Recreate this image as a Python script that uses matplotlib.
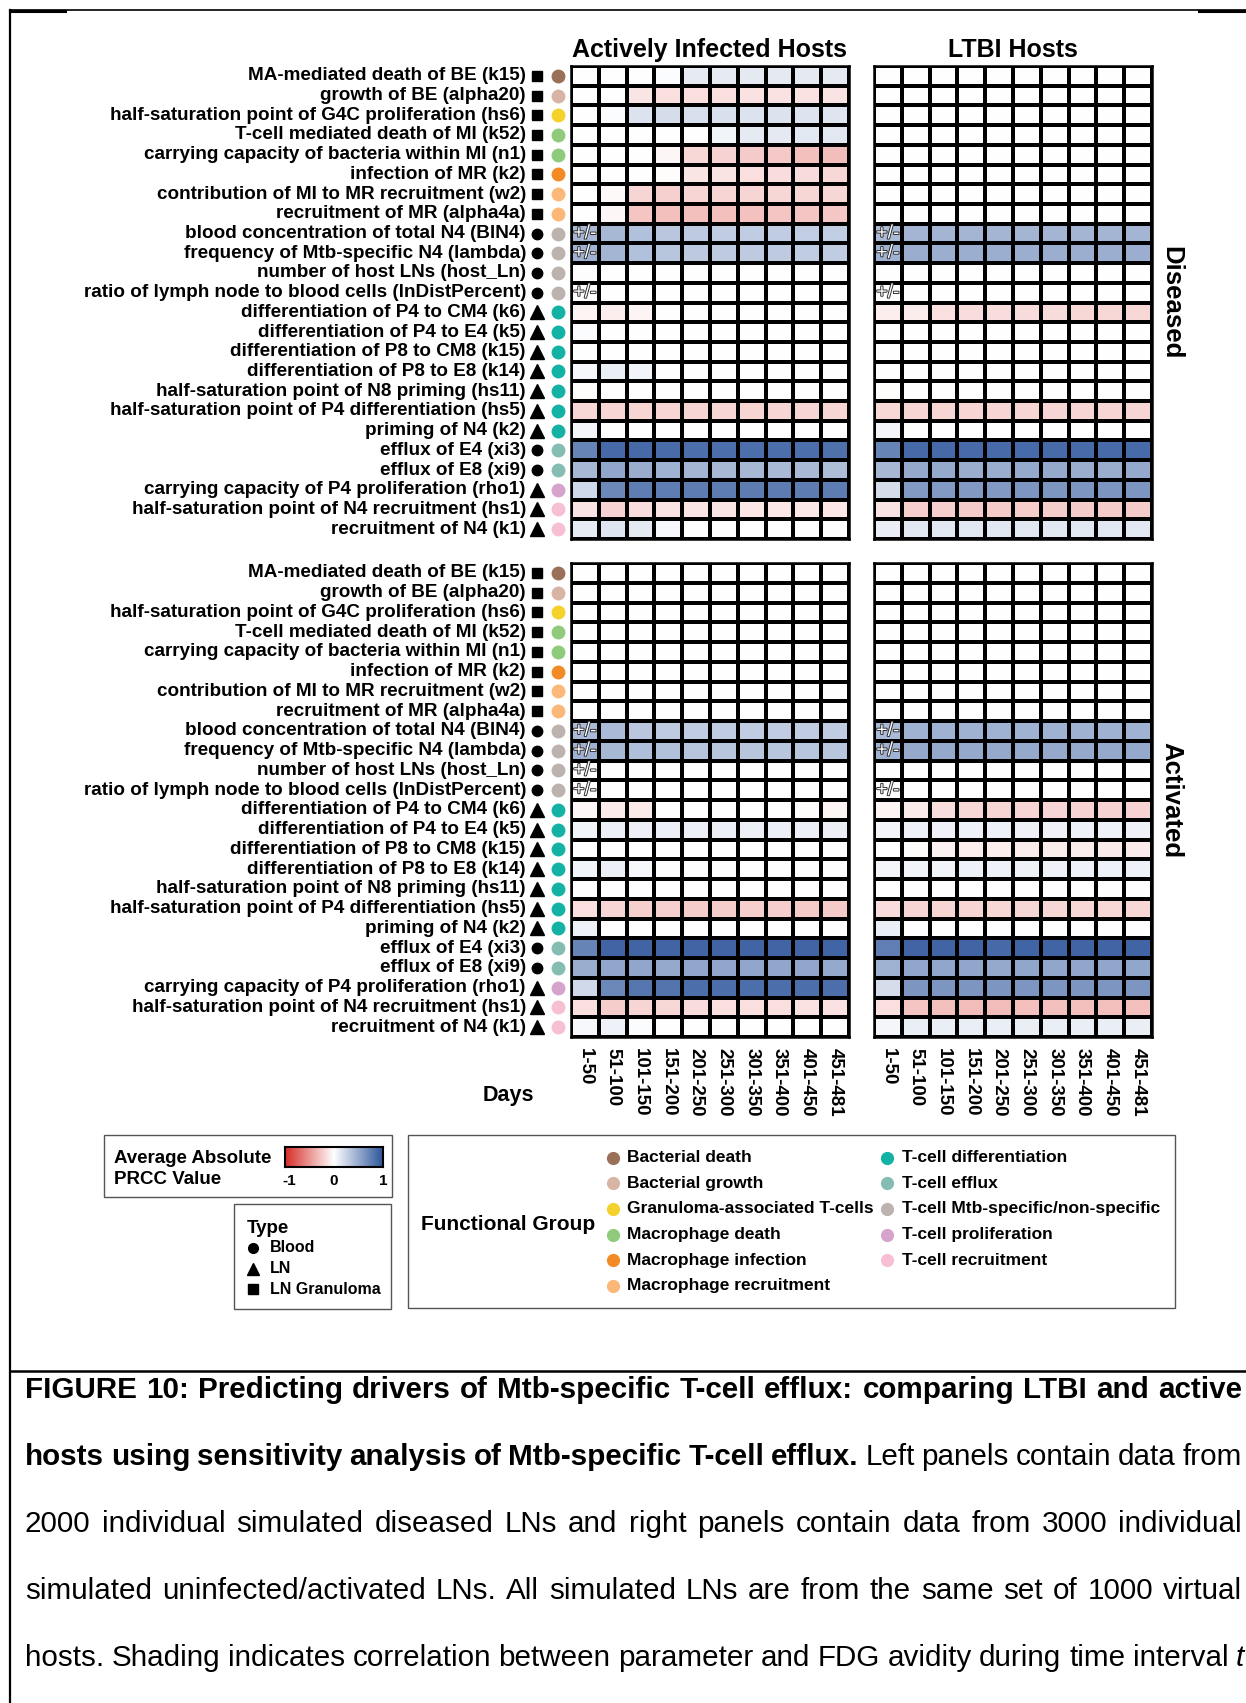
import matplotlib.pyplot as plt
import matplotlib.patheffects as pe
import numpy as np
from matplotlib.colors import LinearSegmentedColormap
from matplotlib.patches import Rectangle
from matplotlib.transforms import blended_transform_factory

plt.rcParams['font.family'] = ['Liberation Sans', 'DejaVu Sans']

W, H = 1246, 1703  # figure size in pixels at dpi 100

# ---- data -------------------------------------------------------------
params = [
    'MA-mediated death of BE (k15)',
    'growth of BE (alpha20)',
    'half-saturation point of G4C proliferation (hs6)',
    'T-cell mediated death of MI (k52)',
    'carrying capacity of bacteria within MI (n1)',
    'infection of MR (k2)',
    'contribution of MI to MR recruitment (w2)',
    'recruitment of MR (alpha4a)',
    'blood concentration of total N4 (BlN4)',
    'frequency of Mtb-specific N4 (lambda)',
    'number of host LNs (host_Ln)',
    'ratio of lymph node to blood cells (lnDistPercent)',
    'differentiation of P4 to CM4 (k6)',
    'differentiation of P4 to E4 (k5)',
    'differentiation of P8 to CM8 (k15)',
    'differentiation of P8 to E8 (k14)',
    'half-saturation point of N8 priming (hs11)',
    'half-saturation point of P4 differentiation (hs5)',
    'priming of N4 (k2)',
    'efflux of E4 (xi3)',
    'efflux of E8 (xi9)',
    'carrying capacity of P4 proliferation (rho1)',
    'half-saturation point of N4 recruitment (hs1)',
    'recruitment of N4 (k1)',
]
param_type = ['LN Granuloma'] * 8 + ['Blood'] * 4 + ['LN'] * 7 + ['Blood'] * 2 + ['LN'] * 3
param_group = [
    'Bacterial death', 'Bacterial growth', 'Granuloma-associated T-cells',
    'Macrophage death', 'Macrophage death', 'Macrophage infection',
    'Macrophage recruitment', 'Macrophage recruitment',
    'T-cell Mtb-specific/non-specific', 'T-cell Mtb-specific/non-specific',
    'T-cell Mtb-specific/non-specific', 'T-cell Mtb-specific/non-specific',
    'T-cell differentiation', 'T-cell differentiation', 'T-cell differentiation',
    'T-cell differentiation', 'T-cell differentiation', 'T-cell differentiation',
    'T-cell differentiation', 'T-cell efflux', 'T-cell efflux',
    'T-cell proliferation', 'T-cell recruitment', 'T-cell recruitment',
]
day_bins = ['1-50', '51-100', '101-150', '151-200', '201-250',
            '251-300', '301-350', '351-400', '401-450', '451-481']

groups = ['Bacterial death', 'Bacterial growth', 'Granuloma-associated T-cells',
          'Macrophage death', 'Macrophage infection', 'Macrophage recruitment',
          'T-cell differentiation', 'T-cell efflux', 'T-cell Mtb-specific/non-specific',
          'T-cell proliferation', 'T-cell recruitment']
group_colors = ['#9a7059', '#d8b4a4', '#f4d22b', '#8ecb7a', '#f28a26', '#fbb878',
                '#14b2a4', '#86bdb3', '#bcb2ae', '#d5a3cc', '#f6bfd3']

types = ['Blood', 'LN', 'LN Granuloma']
type_markers = ['o', '^', 's']

# average absolute PRCC per parameter (rows) and day bin (columns)
active_diseased = [
    [0, 0, 0, 0.02, 0.12, 0.12, 0.13, 0.13, 0.13, 0.13],
    [0, 0, -0.12, -0.15, -0.15, -0.15, -0.14, -0.14, -0.14, -0.13],
    [0, 0.02, 0.17, 0.2, 0.19, 0.18, 0.17, 0.17, 0.16, 0.15],
    [0, 0, 0, 0, 0, 0.07, 0.12, 0.13, 0.14, 0.14],
    [0, 0, 0, -0.04, -0.18, -0.21, -0.25, -0.26, -0.3, -0.31],
    [0, 0, 0, -0.01, -0.12, -0.13, -0.15, -0.16, -0.17, -0.18],
    [0, -0.03, -0.2, -0.22, -0.2, -0.2, -0.2, -0.19, -0.19, -0.19],
    [0, -0.04, -0.28, -0.3, -0.3, -0.3, -0.29, -0.28, -0.28, -0.27],
    [0.42, 0.42, 0.36, 0.33, 0.31, 0.3, 0.3, 0.3, 0.29, 0.29],
    [0.45, 0.43, 0.36, 0.34, 0.32, 0.31, 0.31, 0.31, 0.3, 0.3],
    [0.01, 0, 0, 0, 0, 0, 0, 0, 0, 0],
    [0, 0, 0, 0, 0, 0, 0, 0, 0, 0],
    [-0.05, -0.08, -0.05, 0, 0, 0, 0, 0, 0, 0],
    [0.02, 0, 0, 0, 0, 0, 0, 0, 0, 0],
    [0, 0, 0, 0, 0, 0, 0, 0, 0, 0],
    [0.05, 0.1, 0.07, 0, 0, 0, 0, 0, 0, 0],
    [-0.01, 0, 0, 0, 0, 0, 0, 0, 0, 0],
    [-0.18, -0.2, -0.2, -0.2, -0.2, -0.2, -0.2, -0.2, -0.2, -0.2],
    [0.06, 0, 0, 0, 0, 0, 0, 0, 0, 0],
    [0.72, 0.88, 0.88, 0.86, 0.85, 0.85, 0.85, 0.85, 0.85, 0.84],
    [0.42, 0.52, 0.48, 0.45, 0.43, 0.42, 0.42, 0.41, 0.41, 0.39],
    [0.22, 0.7, 0.76, 0.76, 0.77, 0.77, 0.77, 0.77, 0.77, 0.77],
    [-0.13, -0.21, -0.16, -0.13, -0.12, -0.12, -0.11, -0.11, -0.11, -0.11],
    [0.11, 0.15, 0.13, 0.04, 0, 0, 0, 0, 0, 0],
]
ltbi_diseased = [
    [0, 0, 0, 0, 0, 0, 0, 0, 0, 0],
    [0, 0, 0, 0, 0, 0, 0, 0, 0, 0],
    [0, 0, 0, 0, 0, 0, 0, 0, 0, 0],
    [0, 0, 0, 0, 0, 0, 0, 0, 0, 0],
    [0, 0, 0, 0, 0, 0, 0, 0, 0, 0],
    [0, 0, 0, 0, 0, 0, 0, 0, 0, 0],
    [0, 0, 0, 0, 0, 0, 0, 0, 0, 0],
    [0, 0, 0, 0, 0, 0, 0, 0, 0, 0],
    [0.4, 0.43, 0.43, 0.43, 0.43, 0.43, 0.43, 0.43, 0.43, 0.43],
    [0.45, 0.48, 0.47, 0.47, 0.47, 0.47, 0.47, 0.47, 0.47, 0.47],
    [0, 0, 0, 0, 0, 0, 0, 0, 0, 0],
    [0, 0, 0, 0, 0, 0, 0, 0, 0, 0],
    [-0.08, -0.09, -0.15, -0.16, -0.16, -0.17, -0.17, -0.18, -0.18, -0.18],
    [0, 0, 0, 0, 0, 0, 0, 0, 0, 0],
    [0, 0, 0, 0, 0, 0, 0, 0, 0, 0],
    [0, 0, 0, 0, 0, 0, 0, 0, 0, 0],
    [-0.01, 0, 0, 0, 0, 0, 0, 0, 0, 0],
    [-0.18, -0.2, -0.2, -0.2, -0.2, -0.2, -0.2, -0.2, -0.2, -0.2],
    [0.06, 0, 0, 0, 0, 0, 0, 0, 0, 0],
    [0.72, 0.88, 0.88, 0.87, 0.87, 0.87, 0.87, 0.87, 0.87, 0.87],
    [0.42, 0.5, 0.5, 0.48, 0.48, 0.5, 0.5, 0.48, 0.48, 0.5],
    [0.2, 0.6, 0.6, 0.6, 0.6, 0.62, 0.62, 0.62, 0.62, 0.62],
    [-0.13, -0.23, -0.23, -0.25, -0.25, -0.24, -0.24, -0.25, -0.25, -0.25],
    [0.1, 0.14, 0.14, 0.14, 0.14, 0.14, 0.14, 0.14, 0.14, 0.14],
]
active_activated = [
    [0, 0, 0, 0, 0, 0, 0, 0, 0, 0],
    [0, 0, 0, 0, 0, 0, 0, 0, 0, 0],
    [0, 0, 0, 0, 0, 0, 0, 0, 0, 0],
    [0, 0, 0, 0, 0, 0, 0, 0, 0, 0],
    [0, 0, 0, 0, 0, 0, 0, 0, 0, 0],
    [0, 0, 0, 0, 0, 0, 0, 0, 0, 0],
    [0, 0, 0, 0, 0, 0, 0, 0, 0, 0],
    [0, 0, 0, 0, 0, 0, 0, 0, 0, 0],
    [0.4, 0.4, 0.33, 0.31, 0.3, 0.3, 0.3, 0.3, 0.3, 0.3],
    [0.45, 0.42, 0.38, 0.36, 0.35, 0.34, 0.34, 0.34, 0.34, 0.34],
    [0, 0, 0, 0, 0, 0, 0, 0, 0, 0],
    [0, 0, 0, 0, 0, 0, 0, 0, 0, 0],
    [-0.04, -0.1, -0.1, 0, 0, 0, 0, 0, -0.02, -0.05],
    [0.07, 0.09, 0.09, 0.09, 0.09, 0.09, 0.09, 0.09, 0.09, 0.09],
    [0, 0, 0, 0, 0, 0, 0, 0, 0, 0],
    [0.07, 0.09, 0.04, 0, 0, 0, 0, 0, 0, 0],
    [0, 0, 0, 0, 0, 0, 0, 0, 0, 0],
    [-0.15, -0.2, -0.22, -0.22, -0.24, -0.24, -0.23, -0.23, -0.25, -0.25],
    [0.08, 0, 0, 0, 0, 0, 0, 0, 0, 0],
    [0.72, 0.9, 0.9, 0.9, 0.9, 0.9, 0.9, 0.9, 0.9, 0.9],
    [0.48, 0.52, 0.52, 0.5, 0.52, 0.52, 0.52, 0.52, 0.52, 0.5],
    [0.22, 0.7, 0.8, 0.82, 0.85, 0.85, 0.85, 0.85, 0.85, 0.85],
    [-0.15, -0.24, -0.2, -0.18, -0.16, -0.15, -0.15, -0.15, -0.14, -0.14],
    [0.04, 0.08, 0.02, 0, 0, 0, 0, 0, 0, 0],
]
ltbi_activated = [
    [0, 0, 0, 0, 0, 0, 0, 0, 0, 0],
    [0, 0, 0, 0, 0, 0, 0, 0, 0, 0],
    [0, 0, 0, 0, 0, 0, 0, 0, 0, 0],
    [0, 0, 0, 0, 0, 0, 0, 0, 0, 0],
    [0, 0, 0, 0, 0, 0, 0, 0, 0, 0],
    [0, 0, 0, 0, 0, 0, 0, 0, 0, 0],
    [0, 0, 0, 0, 0, 0, 0, 0, 0, 0],
    [0, 0, 0, 0, 0, 0, 0, 0, 0, 0],
    [0.4, 0.45, 0.45, 0.45, 0.45, 0.45, 0.45, 0.45, 0.45, 0.45],
    [0.45, 0.5, 0.5, 0.5, 0.5, 0.5, 0.5, 0.5, 0.5, 0.5],
    [0.01, 0, 0, 0, 0, 0, 0, 0, 0, 0],
    [0, 0, 0, 0, 0, 0, 0, 0, 0, 0],
    [-0.05, -0.1, -0.16, -0.18, -0.2, -0.2, -0.2, -0.21, -0.21, -0.21],
    [0.06, 0.08, 0.08, 0.08, 0.08, 0.08, 0.08, 0.08, 0.08, 0.08],
    [0, -0.02, -0.07, -0.08, -0.08, -0.09, -0.09, -0.09, -0.1, -0.1],
    [0.06, 0.07, 0.07, 0.08, 0.08, 0.08, 0.08, 0.08, 0.08, 0.08],
    [0, 0, 0, 0, 0, 0, 0, 0, 0, 0],
    [-0.16, -0.2, -0.2, -0.2, -0.18, -0.19, -0.19, -0.18, -0.18, -0.18],
    [0.1, 0, 0, 0, 0, 0, 0, 0, 0, 0],
    [0.75, 0.9, 0.9, 0.9, 0.88, 0.9, 0.9, 0.9, 0.9, 0.9],
    [0.45, 0.52, 0.52, 0.52, 0.5, 0.52, 0.52, 0.52, 0.52, 0.52],
    [0.2, 0.62, 0.62, 0.62, 0.62, 0.62, 0.62, 0.62, 0.62, 0.62],
    [-0.15, -0.28, -0.3, -0.32, -0.32, -0.3, -0.3, -0.3, -0.3, -0.3],
    [0.05, 0.1, 0.1, 0.1, 0.1, 0.1, 0.1, 0.1, 0.1, 0.1],
]

# rows whose first bin changes sign ("+/-")
pm_active_diseased = [8, 9, 11]
pm_ltbi_diseased = [8, 9, 11]
pm_active_activated = [8, 9, 10, 11]
pm_ltbi_activated = [8, 9, 11]

caption_lines = [
    [('FIGURE 10: Predicting drivers of Mtb-specific T-cell efflux: comparing LTBI and active', 'bold')],
    [('hosts using sensitivity analysis of Mtb-specific T-cell efflux.', 'bold'),
     ('Left panels contain data from', 'normal')],
    [('2000 individual simulated diseased LNs and right panels contain data from 3000 individual', 'normal')],
    [('simulated uninfected/activated LNs. All simulated LNs are from the same set of 1000 virtual', 'normal')],
    [('hosts. Shading indicates correlation between parameter and FDG avidity during time interval', 'normal'),
     ('t', 'italic')],
]

prcc_cmap = LinearSegmentedColormap.from_list('prcc', ['#d62d27', '#ffffff', '#2d559b'])


def px_rect(x0, y0, x1, y1):
    """pixel box (top-left origin) -> figure fraction rect"""
    return [x0 / W, 1 - y1 / H, (x1 - x0) / W, (y1 - y0) / H]


fig = plt.figure(figsize=(W / 100, H / 100), dpi=100)

# overlay in pixel units for frames, legends and caption
canvas = fig.add_axes([0, 0, 1, 1])
canvas.set_xlim(0, W)
canvas.set_ylim(H, 0)
canvas.axis('off')

# page frame
canvas.plot([10, W], [10, 10], color='black', lw=1.2)
canvas.plot([10, 65], [10.5, 10.5], color='black', lw=2.2)
canvas.plot([1199, W], [10.5, 10.5], color='black', lw=2.2)
canvas.plot([10, 10], [10, H], color='black', lw=1.6)
canvas.plot([10, W], [1371, 1371], color='black', lw=1.8)


def draw_panel(box, values, pm_rows, title=None, side=None, labels=False, days=False):
    ax = fig.add_axes(px_rect(*box))
    vals = np.array(values)
    nrow, ncol = vals.shape
    ax.pcolormesh(vals, cmap=prcc_cmap, vmin=-1, vmax=1,
                  edgecolors='black', linewidth=1.5)
    ax.set_xlim(0, ncol)
    ax.set_ylim(nrow, 0)
    ax.autoscale(False)
    for s in ax.spines.values():
        s.set_linewidth(1.8)
    ax.set_yticks([])
    if days:
        ax.set_xticks(np.arange(ncol) + 0.5)
        ax.set_xticklabels(day_bins, rotation=270, fontsize=13.5, fontweight='bold')
        ax.tick_params(axis='x', length=0, pad=8)
    else:
        ax.set_xticks([])
    if title:
        ax.set_title(title, fontsize=18, fontweight='bold', pad=6.5)
    if side:
        ax.text(1.068, 0.5, side, transform=ax.transAxes, rotation=270,
                ha='center', va='center', fontsize=18.5, fontweight='bold')
    for r in pm_rows:
        ax.text(0.5, r + 0.52, '+/-', ha='center', va='center', fontsize=14,
                color='white',
                path_effects=[pe.withStroke(linewidth=1.3, foreground='#222222')])
    if labels:
        trans = blended_transform_factory(canvas.transData, ax.transData)
        for i, name in enumerate(params):
            y = i + 0.5
            ax.text(526, y, name, transform=trans, ha='right', va='center',
                    fontsize=13.6, fontweight='bold')
            m = type_markers[types.index(param_type[i])]
            ms = {'o': 7.5, '^': 9.5, 's': 7}[m]
            ax.plot([537], [y], marker=m, ms=ms, color='black', ls='none',
                    transform=trans, clip_on=False)
            c = group_colors[groups.index(param_group[i])]
            ax.plot([557.5], [y], marker='o', ms=10, color=c, mec='none', ls='none',
                    transform=trans, clip_on=False)
    return ax


left_x, right_x = (571, 849), (874, 1152)
top_y, bot_y = (66, 539), (563, 1037)

draw_panel((left_x[0], top_y[0], left_x[1], top_y[1]), active_diseased, pm_active_diseased,
           title='Actively Infected Hosts', labels=True)
draw_panel((right_x[0], top_y[0], right_x[1], top_y[1]), ltbi_diseased, pm_ltbi_diseased,
           title='LTBI Hosts', side='Diseased')
draw_panel((left_x[0], bot_y[0], left_x[1], bot_y[1]), active_activated, pm_active_activated,
           labels=True, days=True)
draw_panel((right_x[0], bot_y[0], right_x[1], bot_y[1]), ltbi_activated, pm_ltbi_activated,
           side='Activated', days=True)

canvas.text(508, 1095, 'Days', ha='center', va='center', fontsize=15.5, fontweight='bold')

# colour scale legend
box_kw = dict(fill=False, edgecolor='#555555', lw=1.0)
canvas.add_patch(Rectangle((104, 1135), 288, 62, **box_kw))
canvas.text(114, 1163, 'Average Absolute', fontsize=13.5, fontweight='bold', va='baseline')
canvas.text(114, 1184, 'PRCC Value', fontsize=13.5, fontweight='bold', va='baseline')
cax = fig.add_axes(px_rect(285, 1147, 383, 1167))
gradient = np.linspace(-1, 1, 256).reshape(1, -1)
cax.imshow(gradient, aspect='auto', cmap=prcc_cmap, vmin=-1, vmax=1, extent=(-1, 1, 0, 1))
cax.set_xticks([])
cax.set_yticks([])
for s in cax.spines.values():
    s.set_linewidth(1.5)
for v in [-1, 0, 1]:
    canvas.text(285 + (v + 1) / 2 * 98 + (4 if v == -1 else 0), 1185, str(v),
                ha='center', va='baseline', fontsize=11, fontweight='bold')

# parameter type legend
canvas.add_patch(Rectangle((234, 1204), 157, 105, **box_kw))
canvas.text(247, 1233, 'Type', fontsize=13.5, fontweight='bold', va='baseline')
for k, (t, m) in enumerate(zip(types, type_markers)):
    y = 1248 + k * 20.5
    ms = {'o': 7, '^': 8.5, 's': 6.5}[m]
    canvas.plot([253], [y], marker=m, ms=ms, color='black', ls='none')
    canvas.text(270, y, t, fontsize=11.5, fontweight='bold', va='center')

# functional group legend
canvas.add_patch(Rectangle((408, 1135), 767, 173, **box_kw))
canvas.text(421, 1230, 'Functional Group', fontsize=15, fontweight='bold', va='baseline')
for k, (g, c) in enumerate(zip(groups, group_colors)):
    col, row = divmod(k, 6)
    x_dot = 612.5 if col == 0 else 887
    y = 1157.7 + row * 25.6
    canvas.plot([x_dot], [y], marker='o', ms=9.5, color=c, mec='none', ls='none')
    canvas.text(x_dot + 14.5, y, g, fontsize=12.5, fontweight='bold', va='center')

# justified caption
renderer = fig.canvas.get_renderer()
base_y = [1398, 1465, 1532, 1599, 1666]
right_edge = [1242, 1242, 1242, 1242, 1244]
for line, y, x1 in zip(caption_lines, base_y, right_edge):
    words = []
    for seg, style in line:
        for w in seg.split(' '):
            kw = dict(fontsize=21.3, va='baseline', ha='left')
            if style == 'bold':
                kw['fontweight'] = 'bold'
            elif style == 'italic':
                kw['fontstyle'] = 'italic'
            words.append(canvas.text(0, y, w, **kw))
    widths = [t.get_window_extent(renderer).width for t in words]
    gap = (x1 - 25 - sum(widths)) / (len(words) - 1)
    x = 25
    for t, wd in zip(words, widths):
        t.set_x(x)
        x += wd + gap

fig.savefig('out.png', dpi=100)
